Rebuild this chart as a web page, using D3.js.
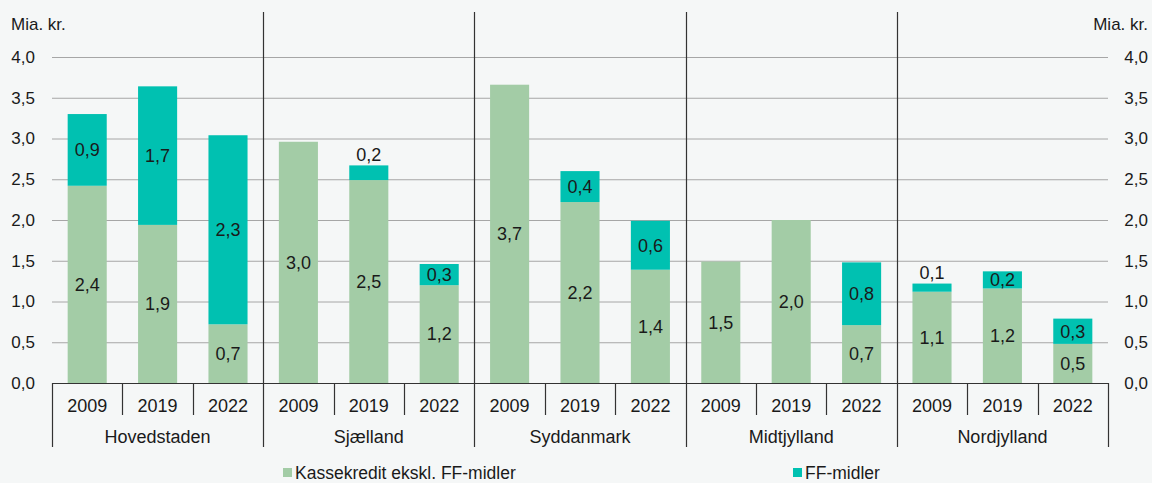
<!DOCTYPE html>
<html><head><meta charset="utf-8">
<script src="https://cdn.jsdelivr.net/npm/d3@7"></script>
<style>
html,body{margin:0;padding:0;background:#f5f7f7;}
svg{display:block;font-family:"Liberation Sans",Arial,sans-serif;}
</style></head>
<body><svg id="c" width="1152" height="483"></svg>
<script>
const regions = ["Hovedstaden","Sjælland","Syddanmark","Midtjylland","Nordjylland"];
const years = ["2009","2019","2022"];
const kassekredit = [2.42,1.94,0.72, 2.96,2.49,1.20, 3.66,2.22,1.39, 1.49,2.00,0.71, 1.12,1.16,0.48];
const ffMidler   = [0.88,1.70,2.32, 0,0.18,0.26, 0,0.38,0.60, 0,0,0.77, 0.10,0.21,0.31];
const yTicks = [0,0.5,1,1.5,2,2.5,3,3.5,4];
const seriesNames = ["Kassekredit ekskl. FF-midler","FF-midler"];
const colors = ["#a3cca6","#00c1b1"];
const unit = "Mia. kr.";

const svg = d3.select("#c");
const L = 52, R = 1108, T = 57, B = 383;
const keys = [];
regions.forEach(r => years.forEach(y => keys.push(r + "|" + y)));
const x = d3.scaleBand().domain(keys).range([L, R]).padding(0);
const xg = d3.scaleBand().domain(regions).range([L, R]).padding(0);
const y = d3.scaleLinear().domain([0, 4]).range([B, T]);
const fmt = v => d3.format(".1f")(v).replace(".", ",");
const textColor = "#1a1a1a";

// gridlines
svg.append("g").selectAll("line").data(yTicks.filter(d => d > 0)).join("line")
  .attr("x1", L).attr("x2", R).attr("y1", d => y(d) + 0.5).attr("y2", d => y(d) + 0.5)
  .attr("stroke", "#a6a6a6").attr("stroke-width", 1);

// left / right tick labels
const axL = d3.axisLeft(y).tickValues(yTicks).tickFormat(fmt).tickSize(0).tickPadding(17);
const gL = svg.append("g").attr("transform", `translate(${L},0)`).call(axL);
const axR = d3.axisRight(y).tickValues(yTicks).tickFormat(fmt).tickSize(0).tickPadding(16);
const gR = svg.append("g").attr("transform", `translate(${R},0)`).call(axR);
[gL, gR].forEach(g => {
  g.select(".domain").remove();
  g.selectAll("text").attr("font-size", 17).attr("fill", textColor).attr("font-family", "Liberation Sans, Arial, sans-serif");
});
gR.selectAll("text").attr("text-anchor", "end").attr("dx", 24);

svg.append("text").attr("x", 11).attr("y", 24).attr("dy", "0.35em").attr("font-size", 17).attr("fill", textColor).text(unit);
svg.append("text").attr("x", 1148).attr("y", 24).attr("dy", "0.35em").attr("text-anchor", "end").attr("font-size", 17).attr("fill", textColor).text(unit);

// bars
const bw = x.bandwidth() * 0.555;
const rows = keys.map((k, i) => ({ k, a: kassekredit[i], b: ffMidler[i] }));
const gb = svg.append("g");
gb.selectAll("rect.a").data(rows).join("rect").attr("class", "a")
  .attr("x", d => x(d.k) + (x.bandwidth() - bw) / 2).attr("width", bw)
  .attr("y", d => y(d.a)).attr("height", d => y(0) - y(d.a)).attr("fill", colors[0]);
gb.selectAll("rect.b").data(rows.filter(d => d.b > 0)).join("rect").attr("class", "b")
  .attr("x", d => x(d.k) + (x.bandwidth() - bw) / 2).attr("width", bw)
  .attr("y", d => y(d.a + d.b)).attr("height", d => y(d.a) - y(d.a + d.b)).attr("fill", colors[1]);

// labels
const gt = svg.append("g").attr("font-size", 18).attr("fill", textColor).attr("text-anchor", "middle");
gt.selectAll("text.a").data(rows).join("text").attr("class", "a")
  .attr("x", d => x(d.k) + x.bandwidth() / 2).attr("y", d => y(d.a / 2)).attr("dy", "0.35em").text(d => fmt(d.a));
gt.selectAll("text.b").data(rows.filter(d => d.b > 0)).join("text").attr("class", "b")
  .attr("x", d => x(d.k) + x.bandwidth() / 2)
  .attr("y", d => d.b < 0.2 ? y(d.a + d.b) - 11 : y(d.a + d.b / 2)).attr("dy", "0.35em").text(d => fmt(d.b));

// baseline + category axis
const axisColor = "#333";
svg.append("line").attr("x1", L).attr("x2", R).attr("y1", B + 0.5).attr("y2", B + 0.5).attr("stroke", axisColor).attr("stroke-width", 1.2);
// year separators
const inner = keys.filter((k, i) => i % 3 !== 0);
svg.append("g").selectAll("line").data(inner).join("line")
  .attr("x1", d => Math.round(x(d)) + 0.5).attr("x2", d => Math.round(x(d)) + 0.5)
  .attr("y1", B).attr("y2", 415).attr("stroke", axisColor).attr("stroke-width", 1.2);
// group separators
const gx = regions.map(r => xg(r)).concat([R]);
svg.append("g").selectAll("line").data(gx).join("line")
  .attr("x1", d => Math.round(d) + 0.5).attr("x2", d => Math.round(d) + 0.5)
  .attr("y1", (d, i) => (i === 0 || i === gx.length - 1) ? B : 12).attr("y2", 447)
  .attr("stroke", axisColor).attr("stroke-width", 1.2);
// year labels
svg.append("g").attr("font-size", 18).attr("fill", textColor).attr("text-anchor", "middle")
  .selectAll("text").data(keys).join("text")
  .attr("x", d => x(d) + x.bandwidth() / 2).attr("y", 405.5).attr("dy", "0.35em").text(d => d.split("|")[1]);
svg.append("g").attr("font-size", 18).attr("fill", textColor).attr("text-anchor", "middle")
  .selectAll("text").data(regions).join("text")
  .attr("x", d => xg(d) + xg.bandwidth() / 2).attr("y", 436.5).attr("dy", "0.35em").text(d => d);

// legend
const legX = [283, 793];
const lg = svg.append("g");
seriesNames.forEach((n, i) => {
  lg.append("rect").attr("x", legX[i]).attr("y", 468).attr("width", 9).attr("height", 9).attr("fill", colors[i]);
  lg.append("text").attr("x", legX[i] + 12).attr("y", 472.5).attr("dy", "0.35em").attr("font-size", 17.5).attr("fill", textColor).text(n);
});
</script></body></html>
